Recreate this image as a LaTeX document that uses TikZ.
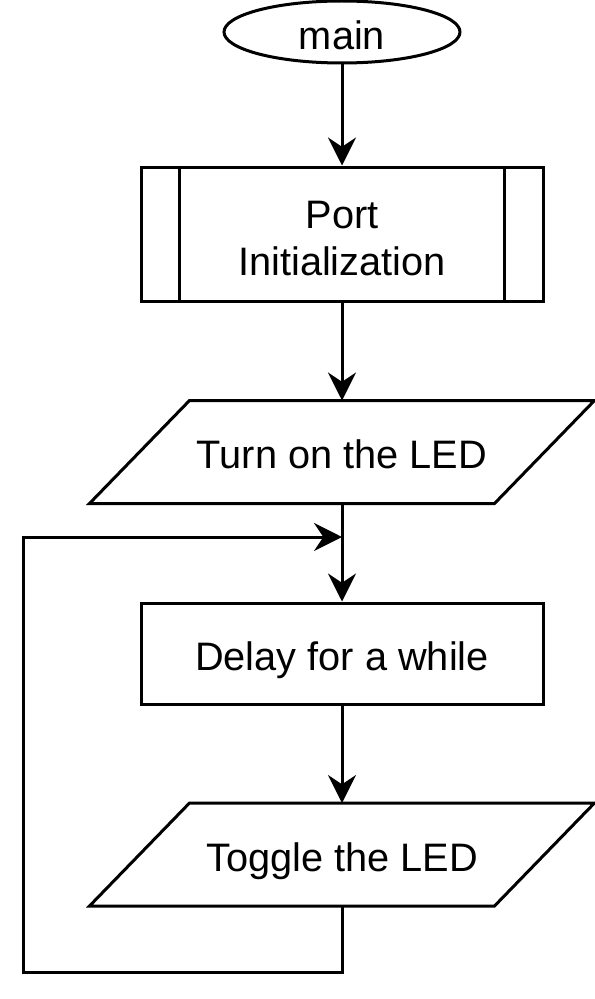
\documentclass[tikz,border=0pt]{standalone}
\usepackage{fontspec}
\setmainfont{Liberation Sans}
\usetikzlibrary{shapes.geometric,arrows.meta}

\tikzset{
	flow/.style={line width=2.25pt, font=\fontsize{29.8}{35}\selectfont, align=center, inner sep=0pt,
		text height=25pt, text depth=0pt},
	terminal/.style={flow, draw, ellipse, minimum width=177pt, minimum height=46.5pt, text height=27pt},
	procbox/.style={flow, draw, rectangle, minimum width=301.5pt},
	iobox/.style={flow, rectangle, minimum width=301.5pt, minimum height=75pt},
	outline/.style={line width=2.25pt},
	line/.style={line width=2.25pt, -{Stealth[length=21pt, width=21pt, inset=7pt]}}
}

\begin{document}
\begin{tikzpicture}[x=0.75pt, y=-0.75pt]
		\useasboundingbox (0, 0) rectangle (595, 999);

		\node[terminal] (start) at (342, 32) {main};

		\node[procbox, minimum height=100.5pt, text height=61.5pt] (init) at (342, 234) {Port\\Initialization};
		\draw[outline] ([xshift=30pt]init.north west) -- ([xshift=30pt]init.south west);
		\draw[outline] ([xshift=-30pt]init.north east) -- ([xshift=-30pt]init.south east);

		\node[iobox] (ledon) at (342, 452) {Turn on the LED};
		\draw[outline] ([xshift=37.5pt]ledon.north west) -- ([xshift=37.5pt]ledon.north east)
			-- ([xshift=-37.5pt]ledon.south east) -- ([xshift=-37.5pt]ledon.south west) -- cycle;

		\node[procbox, minimum height=75.75pt] (delay) at (342, 653.5) {Delay for a while};

		\node[iobox] (toggle) at (342, 854.5) {Toggle the LED};
		\draw[outline] ([xshift=37.5pt]toggle.north west) -- ([xshift=37.5pt]toggle.north east)
			-- ([xshift=-37.5pt]toggle.south east) -- ([xshift=-37.5pt]toggle.south west) -- cycle;

		\coordinate (loopbl) at (23, 972);
		\coordinate (join) at (342, 537);

		\draw[line] (start) -- (init);
		\draw[line] (init) -- (ledon);
		\draw[line] (ledon) -- (delay);
		\draw[line] (delay) -- (toggle);
		\draw[line] (toggle.south) |- (loopbl) |- (join);
	\end{tikzpicture}
\end{document}
